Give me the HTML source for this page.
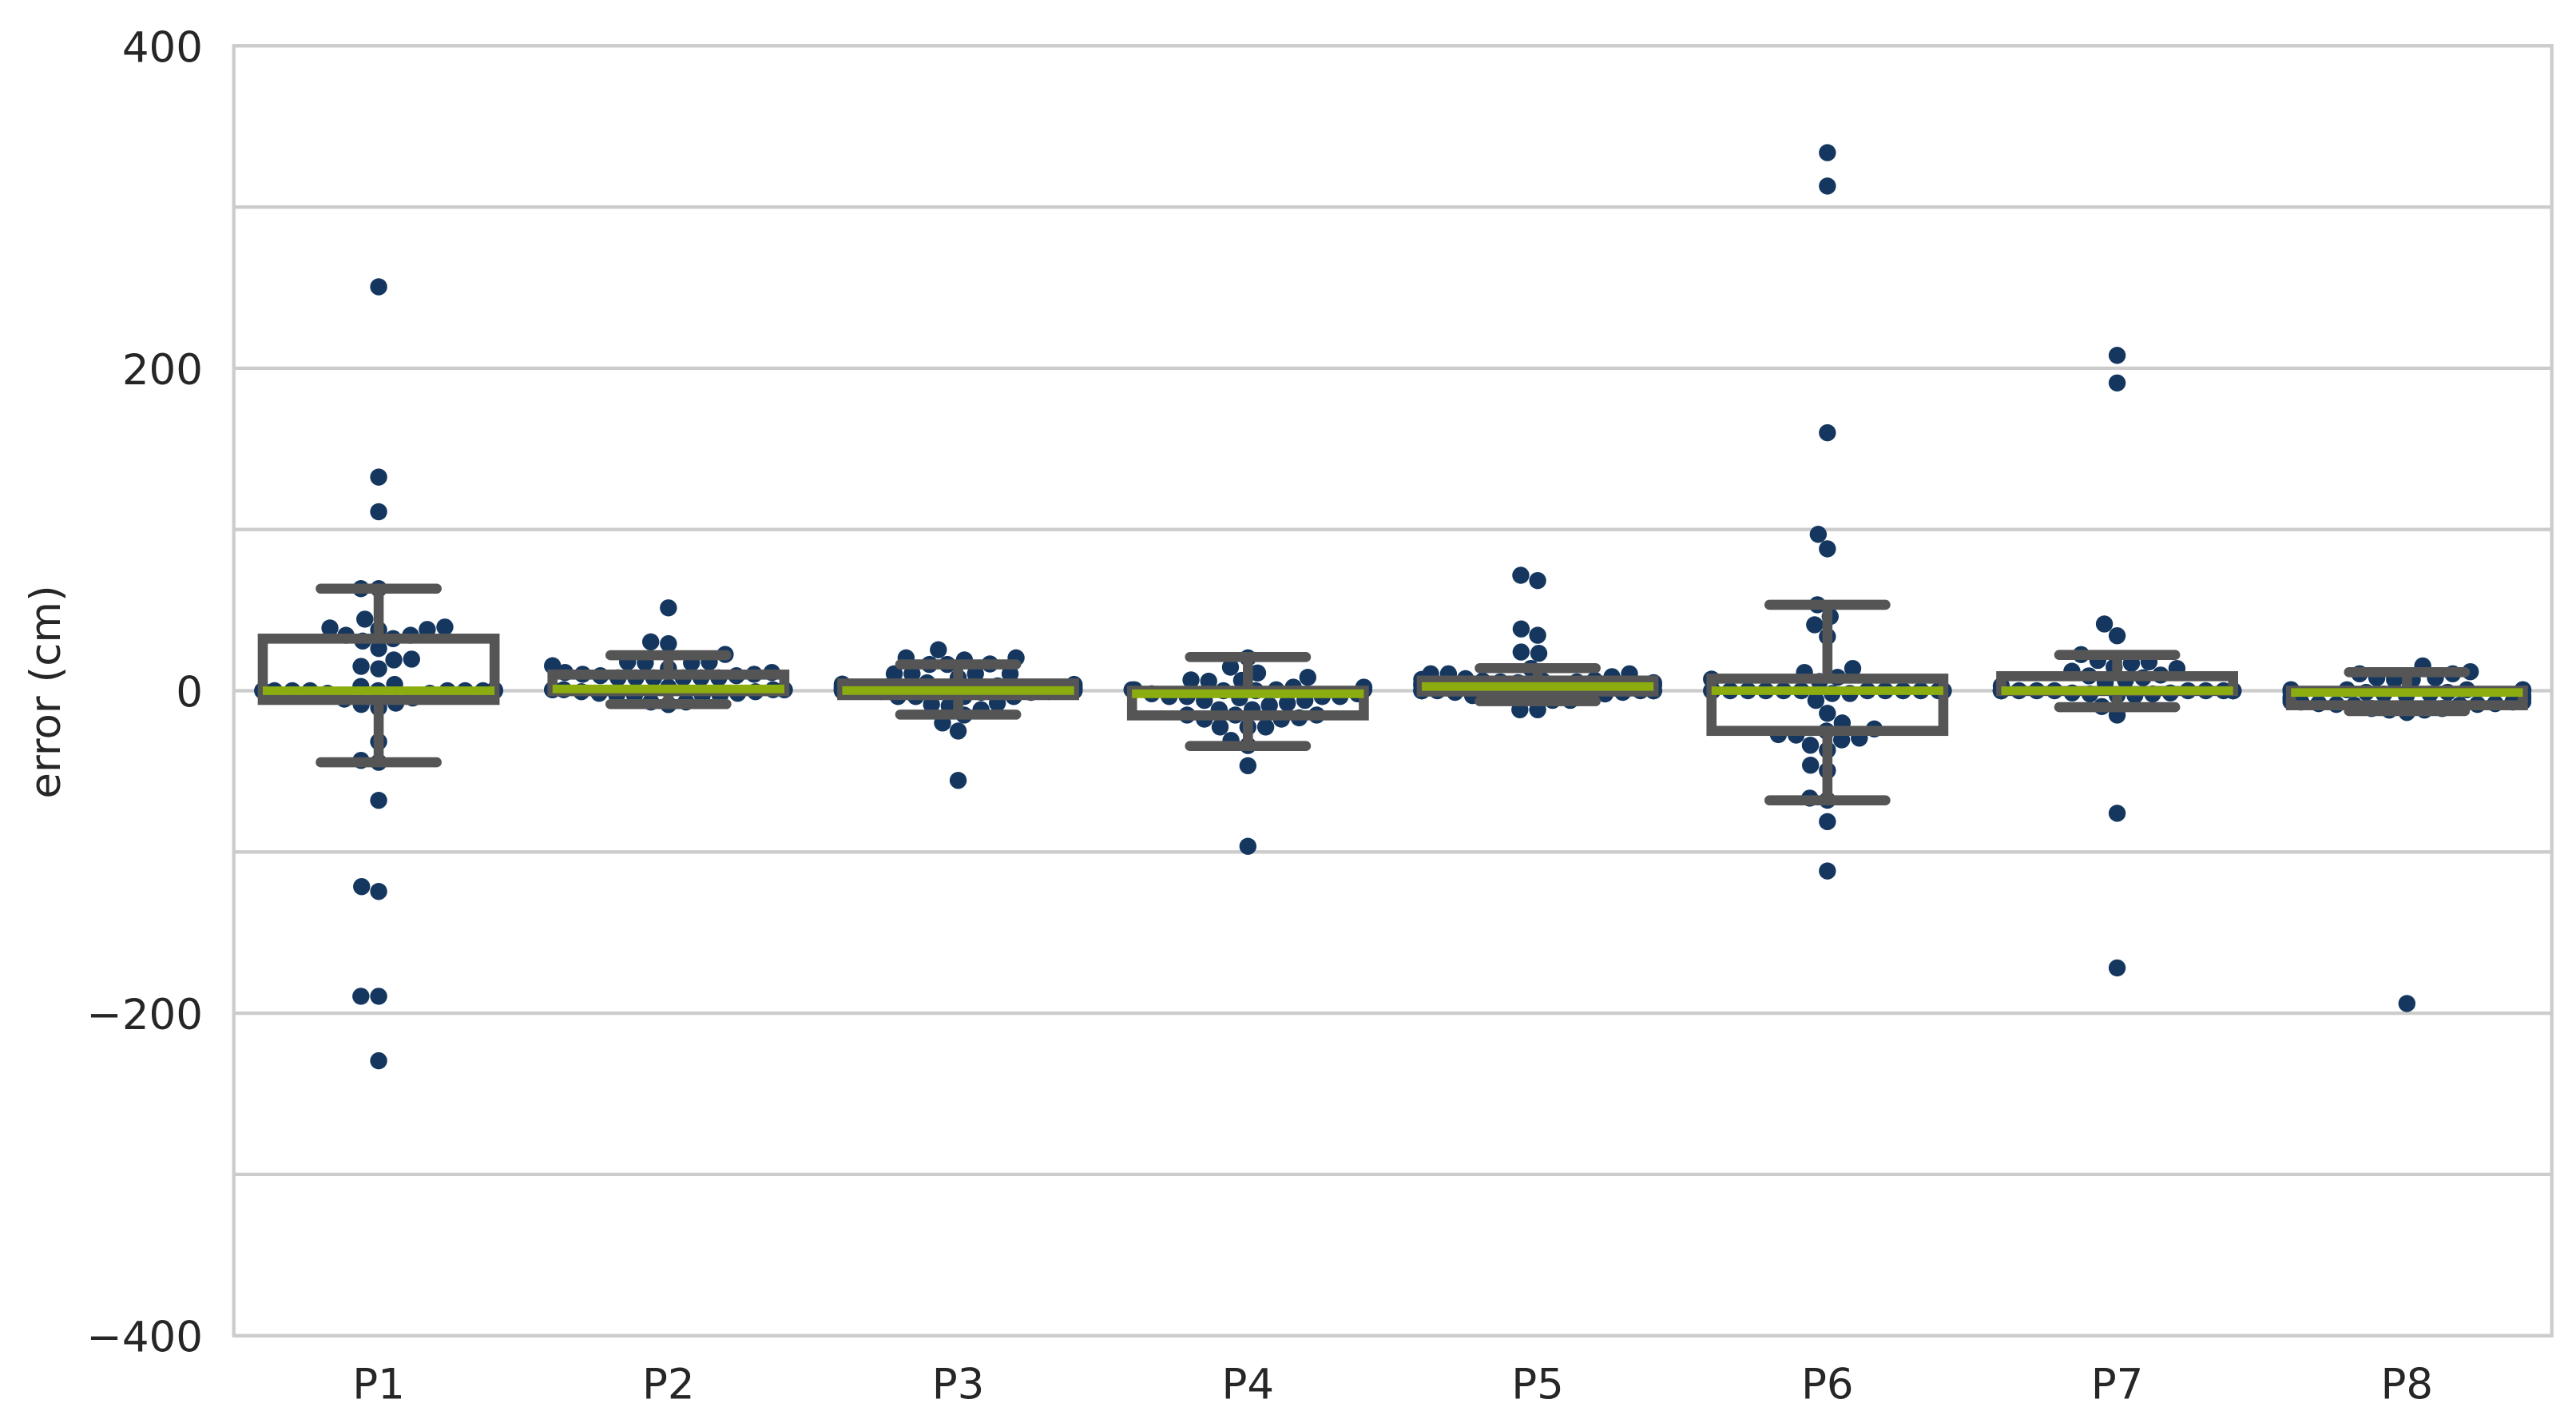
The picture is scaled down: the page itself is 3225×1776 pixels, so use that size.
<!DOCTYPE html>
<html lang="en">
<head>
<meta charset="utf-8">
<title>Error per participant</title>
<style>
html,body{margin:0;padding:0;background:#fff;}
svg{display:block;}
text{font-family:"DejaVu Sans","Liberation Sans",sans-serif;fill:#262626;}
</style>
</head>
<body>
<svg id="chart" xmlns="http://www.w3.org/2000/svg" width="3225" height="1776" viewBox="0 0 3225 1776"></svg>
<script>
const categories = ["P1","P2","P3","P4","P5","P6","P7","P8"];
const gridValues = [-400,-300,-200,-100,0,100,200,300,400];
const tickValues = [-400,-200,0,200,400];
const tickLabels = ["\u2212400","\u2212200","0","200","400"];
const yAxisTitle = "error (cm)";

const seriesP1 = [250.5,132.5,111,63.3,63.3,44.4,39.5,38.9,38,37.8,34.4,34.4,32.3,30.8,26.2,19.6,19.1,15.1,13.6,3.9,2.6,0.5,0,0,0,0,0,0,0,0,0,0,0,0,0,0,-1.6,-1.6,-4.5,-5.2,-7.7,-8.5,-10.5,-31.6,-43.2,-44.4,-68,-121.5,-124.5,-189.5,-189.5,-229.5];
const seriesP2 = [51.4,30.3,29.2,22.5,17.3,17.3,17.8,17.8,15.5,13.8,11.3,11.3,10.2,10.2,9.3,9.3,8,8,8,8,8,8,2.2,0.6,0.6,0.6,0.6,0.6,0.6,-0.6,-0.6,-1.6,-1.6,-2.8,-2.8,-2.8,-2.8,-7,-7,-8.6];
const seriesP3 = [25.4,20.4,20.4,19.1,16.6,16.3,16.3,10.5,10.5,10.5,10.5,8,4.9,4.1,3.9,3.9,3.5,3,2.5,2,2,1.5,1.5,1,1,1,0.5,0.5,0,0,0,0,0,0,0,0,-0.5,-0.5,-1,-1,-3.6,-3.6,-3.6,-3.6,-7.7,-8.5,-9.4,-11.8,-15.1,-20,-25,-55.6];
const seriesP4 = [20.4,14.6,11,8.3,6.7,6.4,5.9,2.2,2.2,0.6,0.6,0.6,0.6,0,0,-1.9,-1.9,-3.6,-3.6,-3.6,-3.6,-4.4,-6,-6,-7.7,-9.1,-11.8,-11.8,-15.1,-15.1,-15.1,-16.8,-17.6,-17.6,-22.5,-22.5,-22.5,-30.8,-34,-46.5,-96.5];
const seriesP5 = [71.6,68.3,38.3,34.4,24,23.2,13.8,10.5,10.5,10.5,8.7,7.5,7,6.5,6,6,5.5,5.5,5,5,4.5,4.5,4,4,3.5,3.5,3,3,0,0,0,0,0,0,0,0,0,0,0,0,-1,-1,-2,-2,-3,-3,-4,-4,-6,-6,-11.8,-11.8];
const seriesP6 = [333.7,313,160,97,88,53.3,46,40.9,33.6,13.8,11.3,8.3,7.2,5.7,0,0,0,0,0,0,0,0,0,0,0,0,0,0,-1.7,-1.7,-6,-14,-20,-23.7,-25,-27.2,-27.5,-29.4,-30.5,-33.8,-36.8,-46.2,-49.5,-66.6,-67.9,-81.2,-111.8];
const seriesP7 = [208,190.9,41.4,34.1,22.4,18.8,17.9,17,14.6,13.8,12.1,9.7,9.2,8,6.5,5,3,0,0,0,0,0,0,0,0,0,0,0,0,0,0,0,0,-1.4,-1.4,-2.8,-2.8,-2,-2,-9.8,-15.1,-76,-171.9];
const seriesP8 = [15.4,11.8,10.5,10.5,8,8,6.9,6.9,0.6,0.6,0.6,0.6,0.6,0.6,0,0,0,0,-0.5,-0.5,-1,-1,-2,-2,-3,-3,-4,-4,-5,-5,-6.8,-6.8,-7,-7,-8,-8,-8.5,-8.5,-9,-9,-11,-11,-12,-12,-13.5,-194];
const seriesValues = [seriesP1,seriesP2,seriesP3,seriesP4,seriesP5,seriesP6,seriesP7,seriesP8];

const boxQ1 = [-5.7,-0.3,-2.7,-15.3,-0.5,-24.9,-0.2,-9];
const boxMedian = [0,1.1,0.1,-1.9,2.6,0,0,-1.1];
const boxQ3 = [32.3,10,4.5,0,6.3,7.5,9,0];
const whiskerLow = [-44.4,-8.3,-14.8,-34.3,-6.5,-68,-10.2,-12.6];
const whiskerHigh = [63.3,22,16.3,20.9,14,53.3,22.2,11.5];

const svgNS = "http://www.w3.org/2000/svg";
const svg = document.getElementById("chart");
const plotLeft = 292.7, plotRight = 3194.7, plotTop = 57.3, plotBottom = 1671.7;
const yMin = -400, yMax = 400;
const bandWidth = (plotRight - plotLeft) / categories.length;
const boxWidth = bandWidth * 0.8;
const capWidth = boxWidth * 0.5;
const dotRadius = 10.6, drawRadius = 10.7;
const gridColor = "#cccccc", boxColor = "#555555", medianColor = "#8cad0f", dotColor = "#15375f";

function xScale(i){ return plotLeft + bandWidth * (i + 0.5); }
function yScale(v){ return plotBottom - (v - yMin) / (yMax - yMin) * (plotBottom - plotTop); }

function make(tag, attrs, parent){
  const el = document.createElementNS(svgNS, tag);
  for (const k in attrs) el.setAttribute(k, attrs[k]);
  (parent || svg).appendChild(el);
  return el;
}

/* swarm layout: lowest value first, each point takes the free spot nearest the midline */
function swarmLayout(values, midline){
  const ys = values.map(yScale).sort((a,b) => b - a);
  const placed = [];
  const d = dotRadius * 2;
  ys.forEach(function(y){
    const neighbors = [];
    for (let j = placed.length - 1; j >= 0; j--){
      if (Math.abs(y - placed[j].y) < d) neighbors.push(placed[j]); else break;
    }
    const candidates = [midline];
    neighbors.forEach(function(n){
      const dy = y - n.y;
      const dx = Math.sqrt(Math.max(d*d - dy*dy, 0)) * 1.05;
      candidates.push(n.x - dx, n.x + dx);
    });
    const order = candidates.map((c,i) => ({c:c,i:i})).sort((a,b) => (Math.abs(a.c-midline) - Math.abs(b.c-midline)) || (a.i - b.i));
    let chosen = midline;
    for (const o of order){
      const free = neighbors.every(n => (o.c-n.x)*(o.c-n.x) + (y-n.y)*(y-n.y) >= d*d - 1e-6);
      if (free){ chosen = o.c; break; }
    }
    placed.push({x:chosen, y:y});
  });
  const half = boxWidth / 2;
  placed.forEach(function(p){ p.x = Math.min(midline + half, Math.max(midline - half, p.x)); });
  return placed;
}

make("rect", {x:0, y:0, width:3225, height:1776, fill:"#ffffff"});

const gridGroup = make("g", {});


gridValues.forEach(function(v){
  const line = make("line", {x1:plotLeft, x2:plotRight, y1:yScale(v), y2:yScale(v), stroke:gridColor, "stroke-width":4.3}, gridGroup);
  
  
});

const frame = make("rect", {x:plotLeft, y:plotTop, width:plotRight-plotLeft, height:plotBottom-plotTop, fill:"none", stroke:gridColor, "stroke-width":4.3});



categories.forEach(function(cat, i){
  const cx = xScale(i);
  const group = make("g", {});
  
  

  swarmLayout(seriesValues[i], cx).forEach(function(p){
    const dot = make("circle", {cx:p.x, cy:p.y, r:drawRadius, fill:dotColor}, group);
    
    
  });

  const whiskerUp = make("line", {x1:cx, x2:cx, y1:yScale(boxQ3[i]), y2:yScale(whiskerHigh[i]), stroke:boxColor, "stroke-width":12.6}, group);
  
  
  const whiskerDown = make("line", {x1:cx, x2:cx, y1:yScale(boxQ1[i]), y2:yScale(whiskerLow[i]), stroke:boxColor, "stroke-width":12.6}, group);
  
  
  const capUp = make("line", {x1:cx-capWidth/2, x2:cx+capWidth/2, y1:yScale(whiskerHigh[i]), y2:yScale(whiskerHigh[i]), stroke:boxColor, "stroke-width":12.6, "stroke-linecap":"round"}, group);
  
  
  const capDown = make("line", {x1:cx-capWidth/2, x2:cx+capWidth/2, y1:yScale(whiskerLow[i]), y2:yScale(whiskerLow[i]), stroke:boxColor, "stroke-width":12.6, "stroke-linecap":"round"}, group);
  
  
  const box = make("rect", {x:cx-boxWidth/2, y:yScale(boxQ3[i]), width:boxWidth, height:yScale(boxQ1[i])-yScale(boxQ3[i]), fill:"none", stroke:boxColor, "stroke-width":12.6}, group);
  
  
  const med = make("line", {x1:cx-boxWidth/2, x2:cx+boxWidth/2, y1:yScale(boxMedian[i]), y2:yScale(boxMedian[i]), stroke:medianColor, "stroke-width":10.8}, group);
  
  

  const label = make("text", {x:cx, y:1750.5, "text-anchor":"middle", "font-size":53}, svg);
  label.textContent = cat;
  
  
});

tickValues.forEach(function(v, i){
  const label = make("text", {x:254, y:yScale(v)+20, "text-anchor":"end", "font-size":53}, svg);
  label.textContent = tickLabels[i];
  
  
});

const yTitle = make("text", {transform:"translate(75,866) rotate(-90)", "text-anchor":"middle", "font-size":53}, svg);
yTitle.textContent = yAxisTitle;


</script>
</body>
</html>
